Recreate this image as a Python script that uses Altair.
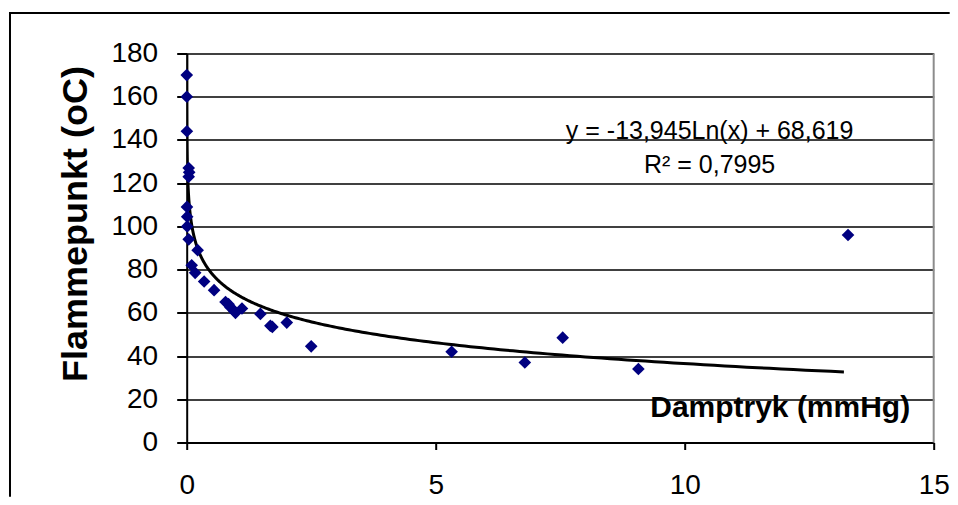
import altair as alt
import pandas as pd

# --- data ---
damptryk = [0.001, 0.002, 0.004, 0.04, 0.05, 0.04, 0.005, 0.01, 0.01, 0.04, 0.22, 0.10, 0.17,
            0.35, 0.55, 0.78, 0.84, 0.88, 0.95, 0.98, 1.11, 1.48, 1.68, 1.72, 2.01, 2.50,
            5.32, 6.79, 7.55, 9.07, 13.28]
flammepunkt = [170, 160, 144, 127, 125, 123, 109, 104.5, 100, 94, 89, 82, 78.5,
               74.5, 70.5, 65, 64, 62.5, 61, 60, 62, 59.5, 54, 53.5, 55.5, 44.5,
               42, 37, 48.5, 34, 96]

# trendline coefficients as printed on the chart: y = a*Ln(x) + b
trend_a = -13.945
trend_b = 68.619
trend_x_max = 13.28

x_ticks = [0, 5, 10, 15]
y_ticks = list(range(0, 181, 20))

eq_text = ["y = -13,945Ln(x) + 68,619", "R² = 0,7995"]
eq_x = [10.5, 10.5]
eq_y = [140.3, 124.6]

FONT = "Liberation Sans"
W, H = 747, 389
PAD_L, PAD_T, PAD_R, PAD_B = 178.7, 45.5, 16, 54.3

pts = pd.DataFrame({"x": damptryk, "y": flammepunkt})
eq = pd.DataFrame({"x": eq_x, "y": eq_y, "t": eq_text})

xscale = alt.Scale(domain=[0, 15], nice=False, zero=True)
yscale = alt.Scale(domain=[0, 180], nice=False)

xaxis = alt.Axis(values=x_ticks, grid=False, domainColor="black", domainWidth=2,
                 tickColor="black", tickWidth=2, tickSize=7, labelFont=FONT,
                 labelFontSize=28, labelColor="black", labelPadding=22,
                 labelFlush=False, labelOverlap=False,
                 title="Damptryk (mmHg)", titleFont=FONT, titleFontSize=30,
                 titleFontWeight="bold", titleColor="black", titleX=593,
                 titleY=-26, titleAlign="center", titleBaseline="alphabetic",
                 titleAnchor="start")
yaxis = alt.Axis(values=y_ticks, grid=True, gridColor="black", gridWidth=1.6,
                 domainColor="black", domainWidth=2, tickColor="black", tickWidth=2,
                 tickSize=10, labelFont=FONT, labelFontSize=28, labelColor="black",
                 labelPadding=19, labelFlush=False, labelOverlap=False,
                 title="Flammepunkt (oC)", titleFont=FONT,
                 titleFontSize=36, titleFontWeight="bold", titleColor="black",
                 titleX=-100, titleY=170, titleAngle=270, titleAlign="center",
                 titleBaseline="alphabetic", titleAnchor="start")

# outer chart-area frame: only its left and top edges fall inside the picture
frame_left = alt.Chart(pd.DataFrame({"k": [0]})).mark_rect(
    color="black", strokeWidth=0
).encode(
    x=alt.value(-177.7), x2=alt.value(-175.7),
    y=alt.value(-41.5), y2=alt.value(H + PAD_B),
)
frame_top = alt.Chart(pd.DataFrame({"k": [0]})).mark_rect(
    color="black", strokeWidth=0
).encode(
    x=alt.value(-177.7), x2=alt.value(W + PAD_R),
    y=alt.value(-41.5), y2=alt.value(-39.5),
)

base_axes = alt.Chart(pts).mark_point(opacity=0).encode(
    x=alt.X("x:Q", scale=xscale, axis=xaxis),
    y=alt.Y("y:Q", scale=yscale, axis=yaxis),
)

right_border = alt.Chart(pd.DataFrame({"x": [15]})).mark_rule(
    color="#8c8c8c", strokeWidth=2
).encode(x=alt.X("x:Q", scale=xscale), y=alt.value(0), y2=alt.value(H))

trend = alt.Chart(alt.sequence(-9.5, 2.587, 0.02, as_="t")).transform_calculate(
    x=f"min(exp(datum.t), {trend_x_max})"
).transform_calculate(
    y=f"{trend_a} * log(datum.x) + {trend_b}"
).mark_line(color="black", strokeWidth=3, clip=True).encode(
    x=alt.X("x:Q", scale=xscale),
    y=alt.Y("y:Q", scale=yscale),
    order="t:Q",
)

points = alt.Chart(pts).mark_point(
    shape="diamond", filled=True, color="#000080", size=160, opacity=1
).encode(x=alt.X("x:Q", scale=xscale), y=alt.Y("y:Q", scale=yscale))

eq_marks = alt.Chart(eq).mark_text(
    font=FONT, fontSize=25, color="black", align="center", baseline="alphabetic"
).encode(x=alt.X("x:Q", scale=xscale), y=alt.Y("y:Q", scale=yscale), text="t:N")

chart = alt.layer(
    frame_left, frame_top, base_axes, right_border, trend, points, eq_marks
).properties(
    width=W, height=H,
    autosize=alt.AutoSizeParams(type="none"),
    padding={"left": PAD_L, "top": PAD_T, "right": PAD_R, "bottom": PAD_B},
).configure(background="white").configure_view(stroke=None)

chart.save("out.html", embed_options={"renderer": "svg", "actions": False})
